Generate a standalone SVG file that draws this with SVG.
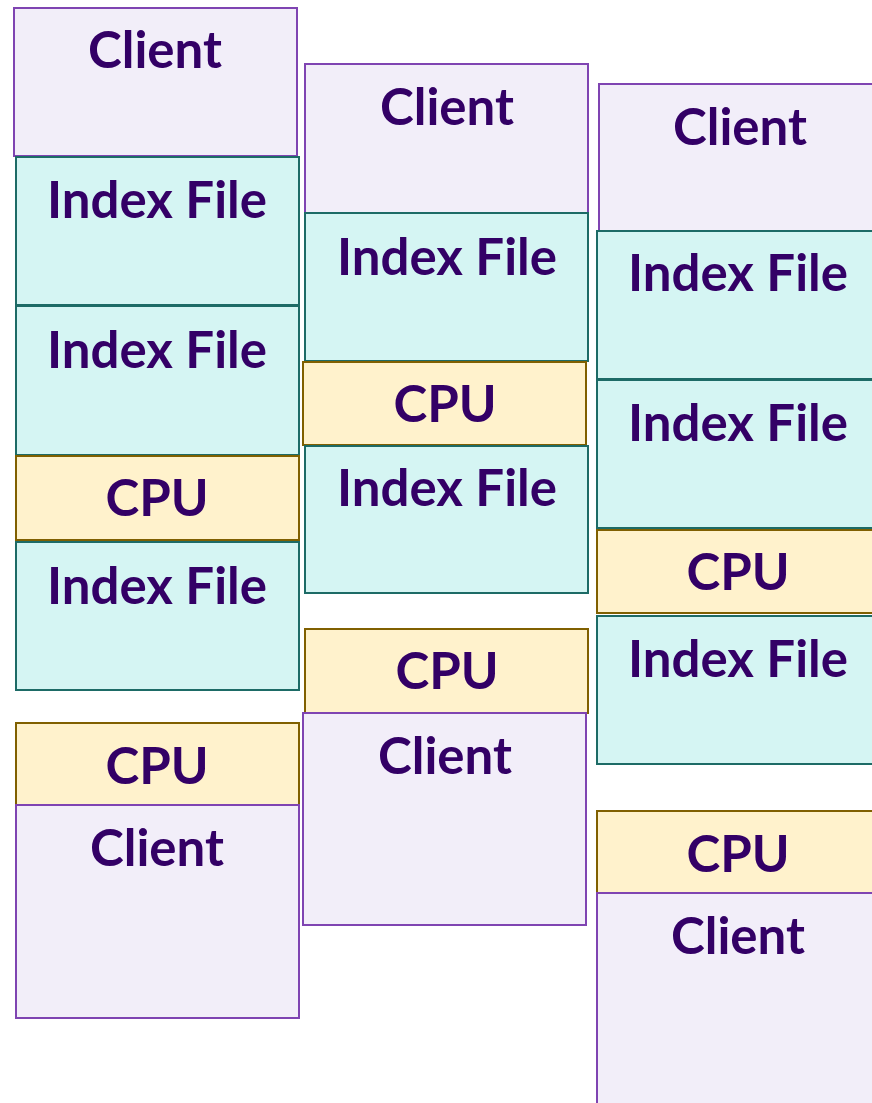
<svg xmlns="http://www.w3.org/2000/svg" width="872" height="1103" viewBox="0 0 872 1103">
  <style>
    rect { stroke-width: 2; }
    .client rect { fill: #F2EEF9; stroke: #7F44B2; }
    .index rect { fill: #D5F5F3; stroke: #1D6B66; }
    .cpu rect { fill: #FFF2CC; stroke: #806000; }
    text { font-family: Lato, "Open Sans", "Liberation Sans", sans-serif; font-weight: bold; font-size: 51px; fill: #330066; text-anchor: middle; }
  </style>
  <rect x="0" y="0" width="872" height="1103" fill="#FFFFFF"/>

  <!-- column 1 -->
  <g id="c1-client-top" class="client"><rect x="14" y="8" width="283" height="148"/><text x="155" y="68">Client</text></g>
  <g id="c1-index-1" class="index"><rect x="16" y="157" width="283" height="148"/><text x="157" y="218">Index File</text></g>
  <g id="c1-index-2" class="index"><rect x="16" y="306" width="283" height="149"/><text x="157" y="368">Index File</text></g>
  <g id="c1-cpu-1" class="cpu"><rect x="16" y="456" width="283" height="84"/><text x="157" y="516">CPU</text></g>
  <g id="c1-index-3" class="index"><rect x="16" y="542" width="283" height="148"/><text x="157" y="604">Index File</text></g>
  <g id="c1-cpu-2" class="cpu"><rect x="16" y="723" width="283" height="82"/><text x="157" y="784">CPU</text></g>
  <g id="c1-client-bottom" class="client"><rect x="16" y="805" width="283" height="213"/><text x="157" y="866">Client</text></g>

  <!-- column 2 -->
  <g id="c2-client-top" class="client"><rect x="305" y="64" width="283" height="149"/><text x="447" y="125">Client</text></g>
  <g id="c2-index-1" class="index"><rect x="305" y="213" width="283" height="148"/><text x="447" y="275">Index File</text></g>
  <g id="c2-cpu-1" class="cpu"><rect x="303" y="362" width="283" height="83"/><text x="445" y="422">CPU</text></g>
  <g id="c2-index-2" class="index"><rect x="305" y="446" width="283" height="147"/><text x="447" y="506">Index File</text></g>
  <g id="c2-cpu-2" class="cpu"><rect x="305" y="629" width="283" height="84"/><text x="447" y="689">CPU</text></g>
  <g id="c2-client-bottom" class="client"><rect x="303" y="713" width="283" height="212"/><text x="445" y="774">Client</text></g>

  <!-- column 3 -->
  <g id="c3-client-top" class="client"><rect x="599" y="84" width="283" height="148"/><text x="740" y="145">Client</text></g>
  <g id="c3-index-1" class="index"><rect x="597" y="231" width="283" height="148"/><text x="738" y="291">Index File</text></g>
  <g id="c3-index-2" class="index"><rect x="597" y="380" width="283" height="148"/><text x="738" y="441">Index File</text></g>
  <g id="c3-cpu-1" class="cpu"><rect x="597" y="530" width="283" height="83"/><text x="738" y="590">CPU</text></g>
  <g id="c3-index-3" class="index"><rect x="597" y="616" width="283" height="148"/><text x="738" y="677">Index File</text></g>
  <g id="c3-cpu-2" class="cpu"><rect x="597" y="811" width="283" height="82"/><text x="738" y="872">CPU</text></g>
  <g id="c3-client-bottom" class="client"><rect x="597" y="893" width="283" height="220"/><text x="738" y="954">Client</text></g>

  <!-- no connectors in this figure -->
  <g id="connectors"/>
</svg>
